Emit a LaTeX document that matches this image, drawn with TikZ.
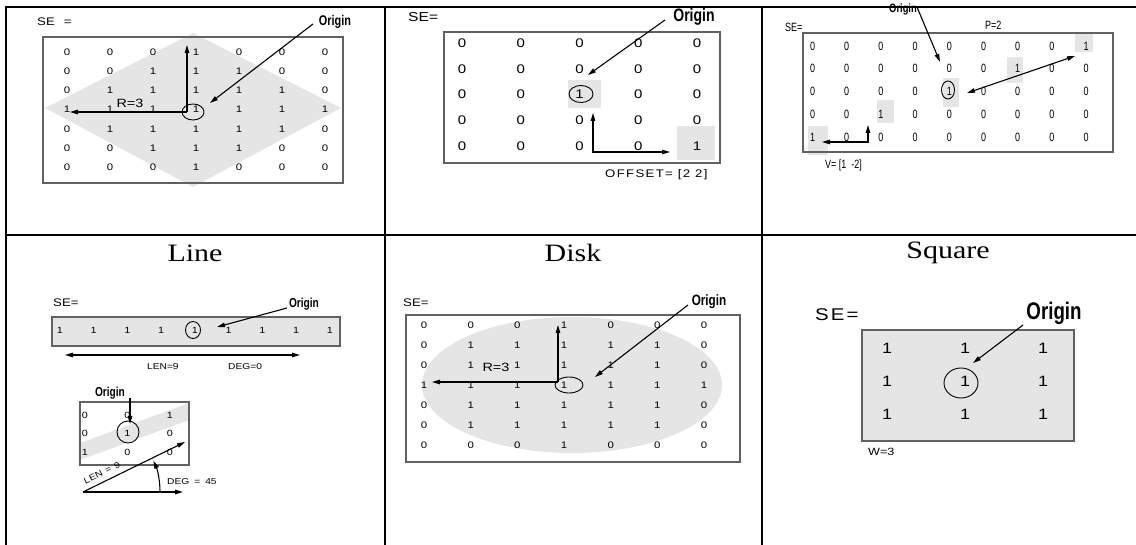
\documentclass[tikz,border=0pt]{standalone}
\usepackage{fontspec}
\setmainfont{Liberation Serif}
\setsansfont{Liberation Sans}
\newfontfamily\titlefont[FakeStretch=1.2]{Liberation Serif}
\newfontfamily\lblfont[FakeStretch=1.2]{Liberation Sans}
\newfontfamily\widefont[FakeStretch=1.2,LetterSpace=12]{Liberation Sans}
\newfontfamily\origfont[FakeStretch=0.78]{Liberation Sans}
\newfontfamily\narrowfont[FakeStretch=0.75]{Liberation Sans}
\usetikzlibrary{arrows.meta,shapes.geometric}

\newcommand{\fs}[1]{\fontsize{#1}{#1}\selectfont}

\tikzset{
  tableline/.style={line width=2.4pt},
  sebox/.style={draw=black!62, line width=1.5pt},
  shade/.style={fill=black!10},
  arr/.style={line width=1.1pt, -{Triangle[length=8pt,width=4.5pt]}},
  darr/.style={line width=1.1pt, {Triangle[length=8pt,width=4.5pt]}-{Triangle[length=8pt,width=4.5pt]}},
  ring/.style={ellipse, draw, line width=0.9pt, inner sep=0pt},
  dig/.style={inner sep=0pt},
  lbl/.style={inner sep=0pt, anchor=west},
  orig/.style={inner sep=0pt, font=\origfont\bfseries},
  title/.style={inner sep=0pt, font=\titlefont\fs{25}},
}

\begin{document}
\begin{tikzpicture}[x=1pt,y=-1pt]
\useasboundingbox (0,0) rectangle (1136,545);

% ---------- table rules ----------
\draw[tableline] (6,7) -- (1136,7);
\draw[tableline] (6,235) -- (1136,235);
\draw[tableline] (6,5.8) -- (6,545);
\draw[tableline] (385,7) -- (385,545);
\draw[tableline] (762,7) -- (762,545);

% ================= Diamond =================
\fill[shade] (193,33) -- (341,108) -- (193,187) -- (45,108) -- cycle;
\draw[sebox] (43,37) rectangle (343,183);
\node[lbl, font=\lblfont\fs{11}] (a-se) at (37,22) {SE\hspace{9pt}=};
\foreach \vals [count=\r] in {{0,0,0,1,0,0,0},{0,0,1,1,1,0,0},{0,1,1,1,1,1,0},{1,1,1,1,1,1,1},{0,1,1,1,1,1,0},{0,0,1,1,1,0,0},{0,0,0,1,0,0,0}}
  \foreach \v [count=\c] in \vals
    \node[dig, font=\lblfont\fs{9.5}] (a\r-\c) at ({67+43*(\c-1)},{52+19.2*(\r-1)}) {\v};
\node[ring, minimum width=22, minimum height=16] (a-ring) at (193,112) {};
\coordinate (a-hub) at (187,112);
\coordinate (a-top) at (187,45);
\coordinate (a-left) at (70,112);
\draw[arr] (a-hub) -- (a-top);
\draw[arr] (a-hub) -- (a-left);
\node[inner sep=0pt, font=\lblfont\fs{12}] (a-r) at (130,103) {R=3};
\node[orig, font=\origfont\bfseries\fs{14}] (a-o) at (335,22) {Origin};
\coordinate (a-os) at (313,24);
\coordinate (a-oe) at (210,103);
\draw[arr] (a-os) -- (a-oe);

% ================= Offset =================
\fill[shade] (568,80) rectangle (601,108);
\fill[shade] (677,126) rectangle (715,160);
\draw[sebox] (444,32) rectangle (720,163);
\node[lbl, font=\lblfont\fs{13}] (b-se) at (408,17) {SE=};
\foreach \vals [count=\r] in {{0,0,0,0,0},{0,0,0,0,0},{0,0,1,0,0},{0,0,0,0,0},{0,0,0,0,1}}
  \foreach \v [count=\c] in \vals
    \node[dig, font=\lblfont\fs{12.5}] (b\r-\c) at ({462+58.75*(\c-1)},{43+25.75*(\r-1)}) {\v};
\node[ring, minimum width=24, minimum height=17] (b-ring) at (581,94) {};
\node[orig, font=\origfont\bfseries\fs{18}] (b-o) at (694,17) {Origin};
\coordinate (b-os) at (665,20);
\coordinate (b-oe) at (588,75);
\draw[arr] (b-os) -- (b-oe);
\coordinate (b-up) at (593,113);
\coordinate (b-right) at (670,152);
\draw[darr] (b-up) |- (b-right);
\node[lbl, font=\widefont\fs{11}] (b-off) at (605,175) {OFFSET= [2 2]};

% ================= Periodic line =================
\fill[shade] (1075,33) rectangle (1093,52);
\fill[shade] (1007,57) rectangle (1023,83);
\fill[shade] (943,78) rectangle (959,107);
\fill[shade] (877,100) rectangle (894,123);
\fill[shade] (808,126) rectangle (828,155);
\draw[sebox] (803,33) rectangle (1113,152);
\node[lbl, font=\narrowfont\fs{12}] (c-se) at (785,27) {SE=};
\node[lbl, font=\narrowfont\fs{12}] (c-p) at (985,25) {P=2};
\foreach \vals [count=\r] in {{0,0,0,0,0,0,0,0,1},{0,0,0,0,0,0,1,0,0},{0,0,0,0,1,0,0,0,0},{0,0,1,0,0,0,0,0,0},{1,0,0,0,0,0,0,0,0}}
  \foreach \v [count=\c] in \vals
    \node[dig, font=\narrowfont\fs{12}] (c\r-\c) at ({812.5+34.2*(\c-1)},{46+22.8*(\r-1)}) {\v};
\node[ring, minimum width=13, minimum height=18] (c-ring) at (948,90) {};
\node[orig, font=\origfont\bfseries\fs{12}] (c-o) at (903,9) {Origin};
\coordinate (c-os) at (917,7);
\coordinate (c-oe) at (940,62);
\draw[arr] (c-os) -- (c-oe);
\coordinate (c-a) at (967,93);
\coordinate (c-b) at (1075,56);
\draw[darr] (c-a) -- (c-b);
\coordinate (c-up) at (868,125);
\coordinate (c-left) at (822,142);
\draw[darr] (c-up) |- (c-left);
\node[lbl, font=\narrowfont\fs{12}] (c-v) at (825,165) {V= [1~~-2]};

% ================= Line =================
\node[title] (d-t) at (195,253) {Line};
\node[lbl, font=\lblfont\fs{11}] (d-se) at (53,303) {SE=};
\node[orig, font=\origfont\bfseries\fs{13}] (d-o) at (304,304) {Origin};
\draw[sebox, shade] (52,317) rectangle (340,346);
\foreach \v [count=\c] in {1,1,1,1,1,1,1,1,1}
  \node[dig, font=\lblfont\fs{9}] (d1-\c) at ({60+33.75*(\c-1)},330) {\v};
\node[ring, minimum width=15, minimum height=17] (d-ring) at (193,330) {};
\coordinate (d-os) at (287,308);
\coordinate (d-oe) at (217,327);
\draw[arr] (d-os) -- (d-oe);
\coordinate (d-l) at (65,355);
\coordinate (d-r) at (300,355);
\draw[darr] (d-l) -- (d-r);
\node[lbl, font=\lblfont\fs{8.5}] (d-len) at (147,367) {LEN=9};
\node[lbl, font=\lblfont\fs{8.5}] (d-deg) at (228,367) {DEG=0};

% diagonal line element
\node[orig, font=\origfont\bfseries\fs{13}] (e-o) at (110,393) {Origin};
\begin{scope}
  \clip (80,402) rectangle (189,465);
  \fill[shade] (80,443) -- (189,403) -- (189,420) -- (80,460) -- cycle;
\end{scope}
\draw[sebox] (80,402) rectangle (189,465);
\foreach \vals [count=\r] in {{0,0,1},{0,1,0},{1,0,0}}
  \foreach \v [count=\c] in \vals
    \node[dig, font=\lblfont\fs{9}] (e\r-\c) at ({85+42.5*(\c-1)},{415+18.5*(\r-1)}) {\v};
\node[ring, circle, minimum size=22] (e-ring) at (128,432) {};
\coordinate (e-os) at (130,398);
\coordinate (e-oe) at (130,424);
\draw[arr] (e-os) -- (e-oe);
\coordinate (e-base) at (83,492);
\coordinate (e-tip) at (185,442);
\coordinate (e-hz) at (183,492);
\draw[arr] (e-base) -- (e-tip);
\draw[arr] (e-base) -- (e-hz);
\coordinate (e-arc0) at (160,492);
\coordinate (e-arc1) at (153.4,460.7);
\draw[arr] (e-arc0) .. controls (160,481.2) and (157.8,470.6) .. (e-arc1);
\node[inner sep=0pt, rotate=27, font=\lblfont\fs{8.5}] (e-len) at (102,473) {LEN\hspace{4pt}=\hspace{4pt}9};
\node[lbl, font=\lblfont\fs{8.5}] (e-deg) at (167,482) {DEG\hspace{5pt}=\hspace{5pt}45};

% ================= Disk =================
\node[title] (f-t) at (573,253) {Disk};
\fill[shade] (572,385) ellipse [x radius=150, y radius=68];
\draw[sebox] (406,315) rectangle (740,462);
\node[lbl, font=\lblfont\fs{11}] (f-se) at (403,303) {SE=};
\foreach \vals [count=\r] in {{0,0,0,1,0,0,0},{0,1,1,1,1,1,0},{0,1,1,1,1,1,0},{1,1,1,1,1,1,1},{0,1,1,1,1,1,0},{0,1,1,1,1,1,0},{0,0,0,1,0,0,0}}
  \foreach \v [count=\c] in \vals
    \node[dig, font=\lblfont\fs{9.5}] (f\r-\c) at ({424+46.67*(\c-1)},{325+20*(\r-1)}) {\v};
\node[ring, minimum width=28, minimum height=16] (f-ring) at (569,385) {};
\coordinate (f-hub) at (558,382);
\coordinate (f-top) at (558,325);
\coordinate (f-left) at (432,382);
\draw[arr] (f-hub) -- (f-top);
\draw[arr] (f-hub) -- (f-left);
\node[inner sep=0pt, font=\lblfont\fs{12}] (f-r) at (496,367) {R=3};
\node[orig, font=\origfont\bfseries\fs{15}] (f-o) at (709,302) {Origin};
\coordinate (f-os) at (688,305);
\coordinate (f-oe) at (595,377);
\draw[arr] (f-os) -- (f-oe);

% ================= Square =================
\node[title] (g-t) at (948,253) {Square};
\node[lbl, font=\widefont\fs{17}] (g-se) at (815,315) {SE=};
\draw[sebox, shade, line width=2.2pt] (862,330) rectangle (1074,441);
\foreach \vals [count=\r] in {{1,1,1},{1,1,1},{1,1,1}}
  \foreach \v [count=\c] in \vals
    \node[dig, font=\lblfont\fs{15}] (g\r-\c) at ({887+78*(\c-1)},{348+33*(\r-1)}) {\v};
\node[ring, minimum width=34, minimum height=30] (g-ring) at (961,383) {};
\node[orig, font=\origfont\bfseries\fs{24}] (g-o) at (1054,313) {Origin};
\coordinate (g-os) at (1023,325);
\coordinate (g-oe) at (973,363);
\draw[arr] (g-os) -- (g-oe);
\node[lbl, font=\lblfont\fs{10.5}] (g-w) at (868,452) {W=3};
\end{tikzpicture}
\end{document}
